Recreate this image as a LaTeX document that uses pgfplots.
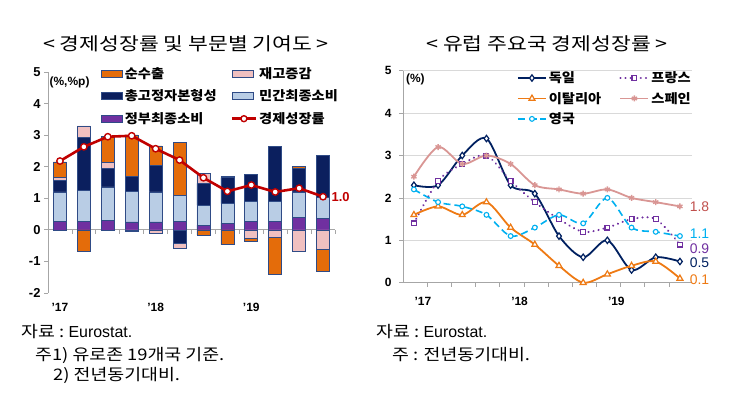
\documentclass[border=0pt]{standalone}
\usepackage{fontspec}
\usepackage{graphicx}
\setmainfont{Liberation Sans}
\newfontfamily\kr{Noto Sans CJK KR}
\usepackage{pgfplots}
\pgfplotsset{compat=1.18}
\definecolor{nxorange}{HTML}{E46C0A}
\definecolor{invpink}{HTML}{F0C0C0}
\definecolor{gfcfnavy}{HTML}{0B1F5E}
\definecolor{privblue}{HTML}{B9CDE5}
\definecolor{govpurple}{HTML}{7030A0}
\definecolor{edgeblue}{HTML}{2F4B86}
\definecolor{lred}{HTML}{C00000}
\definecolor{axgray}{HTML}{A6A6A6}
\definecolor{gridgray}{HTML}{D9D9D9}
\definecolor{decol}{HTML}{002060}
\definecolor{frcol}{HTML}{7030A0}
\definecolor{itcol}{HTML}{EE7A14}
\definecolor{escol}{HTML}{D99694}
\definecolor{eslab}{HTML}{C0504D}
\definecolor{ukcol}{HTML}{00B0F0}
\newcommand{\fs}[1]{\fontsize{#1}{#1}\selectfont}
\newcommand{\kx}[2]{\scalebox{#1}[1]{\kr #2}}
\pgfplotsset{
  rectlegend/.style={legend image code/.code={\draw[##1] (0bp,-3.5bp) rectangle (21bp,3.5bp);}},
  linelegendL/.style={legend image code/.code={\draw[mark repeat=2,mark phase=2,##1] plot coordinates {(0bp,0bp) (12bp,0bp) (24bp,0bp)};}},
  linelegendR/.style={legend image code/.code={\draw[mark repeat=2,mark phase=2,##1] plot coordinates {(0bp,0bp) (14bp,0bp) (28bp,0bp)};}},
}
\begin{document}
\begin{tikzpicture}[x=1bp,y=1bp]
\path[use as bounding box] (0,0) rectangle (750,392);
% titles
\node[font=\fs{18}] at (186,348) {\kx{1.2}{< 경제성장률 및 부문별 기여도 >}};
\node[font=\fs{18}] at (547,348) {\kx{1.2}{< 유럽 주요국 경제성장률 >}};
% notes
\node[anchor=west,inner sep=0pt,font=\fs{16}] at (21,60) {\kx{1.15}{자료 :} Eurostat.};
\node[anchor=west,inner sep=0pt,font=\fs{16}] at (35,37) {\kx{1.15}{주1) 유로존 19개국 기준.}};
\node[anchor=west,inner sep=0pt,font=\fs{16}] at (53,17) {\kx{1.15}{2) 전년동기대비.}};
\node[anchor=west,inner sep=0pt,font=\fs{16}] at (376,60) {\kx{1.15}{자료 :} Eurostat.};
\node[anchor=west,inner sep=0pt,font=\fs{16}] at (392,37) {\kx{1.15}{주 : 전년동기대비.}};

\pgfplotsset{
  leftax/.style={at={(48bp,99bp)}, anchor=south west, scale only axis,
    width=287bp, height=221bp, xmin=-0.5, xmax=11.5, ymin=-2, ymax=5},
}
% ---------- left: positive stack ----------
\begin{axis}[leftax,
  ybar stacked, bar width=13bp,
  axis y line=left, axis x line=middle,
  axis line style={-, draw=axgray, line width=0.8bp},
  hide obscured x ticks=false, hide obscured y ticks=false,
  tick align=outside, tick style={axgray, line width=0.8bp},
  major tick length=4bp, minor tick length=4bp,
  ytick={-2,-1,0,1,2,3,4,5}, yticklabels={-2,-1,0,1,2,3,4,5},
  yticklabel style={font=\bfseries\fs{13}},
  xtick={0,4,8}, xticklabels={'17,'18,'19},
  major x tick style={draw=none},
  minor xtick={-0.5,0.5,...,11.5},
  xticklabel style={font=\bfseries\fs{12}, yshift=-66bp},
  every axis plot/.append style={draw=edgeblue, line width=0.6bp},
]
\addplot[fill=govpurple] coordinates {(0,0.27)(1,0.27)(2,0.31)(3,0.25)(4,0.25)(5,0.28)(6,0.15)(7,0.21)(8,0.28)(9,0.28)(10,0.39)(11,0.36)};
\addplot[fill=privblue] coordinates {(0,0.93)(1,0.99)(2,1.05)(3,0.98)(4,0.95)(5,0.82)(6,0.63)(7,0.62)(8,0.61)(9,0.61)(10,0.81)(11,0.66)};
\addplot[fill=gfcfnavy] coordinates {(0,0.37)(1,1.66)(2,0.58)(3,0.47)(4,0.85)(5,0)(6,0.69)(7,0.82)(8,0.86)(9,1.75)(10,0.74)(11,1.33)};
\addplot[fill=invpink] coordinates {(0,0.10)(1,0.37)(2,0.20)(3,0)(4,0)(5,0)(6,0.33)(7,0.05)(8,0)(9,0)(10,0)(11,0)};
\addplot[fill=nxorange] coordinates {(0,0.48)(1,0)(2,0.82)(3,1.31)(4,0.61)(5,1.68)(6,0)(7,0)(8,0)(9,0)(10,0.07)(11,0)};
\node[anchor=west, font=\bfseries\fs{12}, inner sep=0pt] at (rel axis cs:0.005,0.955) {(\%,\%p)};
\end{axis}
% ---------- left: negative stack ----------
\begin{axis}[leftax, hide axis, ybar stacked, bar width=13bp,
  every axis plot/.append style={draw=edgeblue, line width=0.6bp}]
\addplot[fill=gfcfnavy] coordinates {(0,0)(1,0)(2,0)(3,0)(4,0)(5,-0.42)(6,0)(7,0)(8,0)(9,0)(10,0)(11,0)};
\addplot[fill=invpink] coordinates {(0,0)(1,0)(2,0)(3,-0.05)(4,-0.10)(5,-0.16)(6,0)(7,0)(8,-0.27)(9,-0.24)(10,-0.69)(11,-0.61)};
\addplot[fill=nxorange] coordinates {(0,0)(1,-0.69)(2,0)(3,0)(4,0)(5,0)(6,-0.16)(7,-0.47)(8,-0.08)(9,-1.18)(10,0)(11,-0.70)};
\end{axis}
% ---------- left: growth line + legend ----------
\begin{axis}[leftax, hide axis, clip=false,
  legend columns=2,
  legend cell align=left,
  legend style={draw=none, fill=none, at={(0.185,1.03)}, anchor=north west,
    font=\bfseries\fs{13}, row sep=6bp, inner sep=0pt,
    /tikz/every even column/.append style={column sep=12bp}},
]
\addlegendimage{rectlegend, fill=nxorange, draw=edgeblue, line width=0.6bp}
\addlegendentry{\kx{1.1}{순수출}}
\addlegendimage{rectlegend, fill=invpink, draw=edgeblue, line width=0.6bp}
\addlegendentry{\kx{1.1}{재고증감}}
\addlegendimage{rectlegend, fill=gfcfnavy, draw=edgeblue, line width=0.6bp}
\addlegendentry{\kx{1.1}{총고정자본형성}}
\addlegendimage{rectlegend, fill=privblue, draw=edgeblue, line width=0.6bp}
\addlegendentry{\kx{1.1}{민간최종소비}}
\addlegendimage{rectlegend, fill=govpurple, draw=edgeblue, line width=0.6bp}
\addlegendentry{\kx{1.1}{정부최종소비}}
\addlegendimage{linelegendL, lred, line width=2.6bp, mark=*, mark size=3bp, mark options={fill=white, line width=1.4bp}}
\addlegendentry{\kx{1.1}{경제성장률}}
\addplot[lred, line width=2.6bp, mark=*, mark size=3.2bp, mark options={fill=white, line width=1.4bp}, forget plot]
 coordinates {(0,2.18)(1,2.63)(2,2.95)(3,2.98)(4,2.57)(5,2.21)(6,1.65)(7,1.22)(8,1.42)(9,1.20)(10,1.32)(11,1.05)};
\node[anchor=west, text=lred, font=\bfseries\fs{13}, inner sep=0pt] at (axis cs:11.35,1.05) {1.0};
\end{axis}

% ---------- right chart ----------
\begin{axis}[at={(403bp,109.3bp)}, anchor=south west, scale only axis,
  width=289bp, height=212bp, xmin=-0.45, xmax=11.5, ymin=0, ymax=5,
  clip=false,
  axis y line=left, axis x line=bottom,
  axis line style={-, draw=axgray, line width=0.8bp},
  tick align=outside, tick style={axgray, line width=0.8bp},
  major tick length=4bp, minor tick length=4bp,
  ytick={0,1,2,3,4,5}, yticklabels={0,1,2,3,4,5},
  ymajorgrids, grid style={gridgray, line width=0.8bp},
  yticklabel style={font=\bfseries\fs{12}, xshift=-4bp},
  xtick={0.37,4.37,8.37}, xticklabels={'17,'18,'19},
  major x tick style={draw=none},
  minor xtick={0.55,1.55,...,10.55},
  xticklabel style={font=\bfseries\fs{12}, yshift=-7bp},
  legend columns=2,
  legend cell align=left,
  legend style={draw=none, fill=none, at={(0.394,1.005)}, anchor=north west,
    font=\bfseries\fs{13}, row sep=4bp, inner sep=0pt,
    /tikz/every even column/.append style={column sep=16bp}},
  linelegendR,
  every axis plot/.append style={smooth, tension=0.5},
]
\addplot[decol, line width=1.8bp, mark=diamond*, mark size=3.2bp, mark options={fill=white, line width=1.2bp, solid}]
 coordinates {(0,2.3)(1,2.3)(2,3.0)(3,3.4)(4,2.3)(5,2.1)(6,1.1)(7,0.6)(8,1.0)(9,0.3)(10,0.6)(11,0.5)};
\addlegendentry{\kx{1.1}{독일}}
\addplot[frcol, line width=2.2bp, line cap=round, dash pattern=on 0.1bp off 5bp, mark=square*, mark size=2.4bp, mark options={fill=white, line width=1.2bp, solid}]
 coordinates {(0,1.4)(1,2.4)(2,2.8)(3,3.0)(4,2.4)(5,1.9)(6,1.5)(7,1.2)(8,1.3)(9,1.5)(10,1.5)(11,0.9)};
\addlegendentry{\kx{1.1}{프랑스}}
\addplot[itcol, line width=1.8bp, mark=triangle*, mark size=3.4bp, mark options={fill=white, line width=1.2bp, solid}]
 coordinates {(0,1.6)(1,1.8)(2,1.6)(3,1.9)(4,1.3)(5,0.9)(6,0.4)(7,0.0)(8,0.2)(9,0.4)(10,0.5)(11,0.1)};
\addlegendentry{\kx{1.1}{이탈리아}}
\addplot[escol, line width=1.8bp, mark=asterisk, mark size=3bp, mark options={line width=1.4bp, solid}]
 coordinates {(0,2.5)(1,3.2)(2,2.8)(3,3.0)(4,2.8)(5,2.3)(6,2.2)(7,2.1)(8,2.2)(9,2.0)(10,1.9)(11,1.8)};
\addlegendentry{\kx{1.1}{스페인}}
\addplot[ukcol, line width=1.6bp, dash pattern=on 7bp off 4bp, mark=*, mark size=2.4bp, mark options={fill=white, line width=1.1bp, solid}]
 coordinates {(0,2.2)(1,1.9)(2,1.8)(3,1.6)(4,1.1)(5,1.3)(6,1.6)(7,1.4)(8,2.0)(9,1.3)(10,1.2)(11,1.1)};
\addlegendentry{\kx{1.1}{영국}}
\node[anchor=west, font=\bfseries\fs{12}, inner sep=0pt] at (rel axis cs:0.01,0.96) {(\%)};
\node[anchor=west, text=eslab, font=\fs{14}, inner sep=0pt] at (axis cs:11.4,1.8) {1.8};
\node[anchor=west, text=ukcol, font=\fs{14}, inner sep=0pt] at (axis cs:11.4,1.16) {1.1};
\node[anchor=west, text=frcol, font=\fs{14}, inner sep=0pt] at (axis cs:11.4,0.8) {0.9};
\node[anchor=west, text=decol, font=\fs{14}, inner sep=0pt] at (axis cs:11.4,0.48) {0.5};
\node[anchor=west, text=itcol, font=\fs{14}, inner sep=0pt] at (axis cs:11.4,0.08) {0.1};
\end{axis}
\end{tikzpicture}
\end{document}
